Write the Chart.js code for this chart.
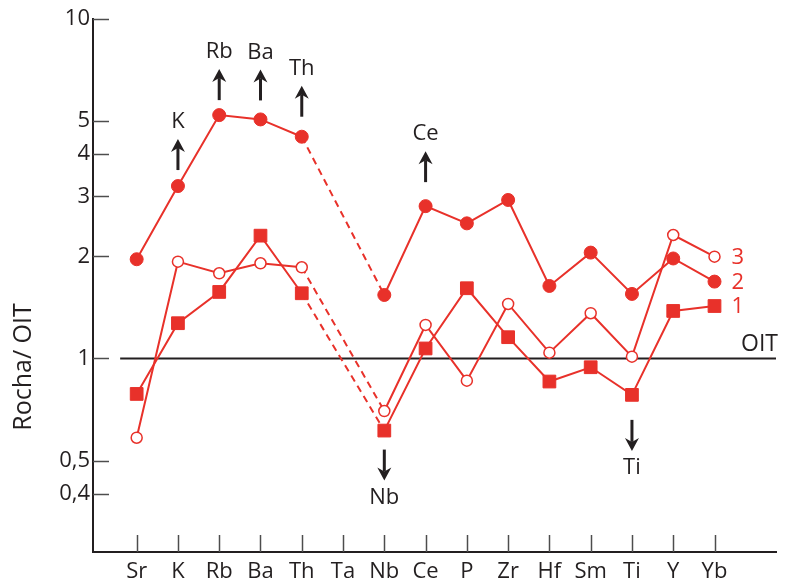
<!DOCTYPE html>
<html>
<head>
<meta charset="utf-8">
<script src="https://cdn.jsdelivr.net/npm/chart.js@4.4.0/dist/chart.umd.min.js"></script>
<style>
  html, body { margin: 0; padding: 0; background: #ffffff; }
  canvas { display: block; }
</style>
</head>
<body>
<canvas id="spider" width="786" height="579"></canvas>
<script>
// Elements along the horizontal axis (Ta has no analysis)
const elements = ['Sr', 'K', 'Rb', 'Ba', 'Th', 'Ta', 'Nb', 'Ce', 'P', 'Zr', 'Hf', 'Sm', 'Ti', 'Y', 'Yb'];

// Rock / OIT normalised values for each sample
const sample1 = [0.786, 1.27, 1.57, 2.30, 1.556, null, 0.613, 1.07, 1.61, 1.155, 0.855, 0.942, 0.781, 1.38, 1.427];
const sample2 = [1.96, 3.22, 5.21, 5.06, 4.50, null, 1.538, 2.81, 2.50, 2.93, 1.635, 2.05, 1.549, 1.97, 1.684];
const sample3 = [0.584, 1.928, 1.782, 1.907, 1.856, null, 0.70, 1.255, 0.86, 1.447, 1.04, 1.359, 1.012, 2.31, 1.994];

const sampleNames = ['1', '2', '3'];
const yTickValues = [0.4, 0.5, 1, 2, 3, 4, 5, 10];
const yTitle = 'Rocha/ OIT';
const oitLabel = 'OIT';
const oitLevel = 1;

// Elements flagged with an enrichment (up) or depletion (down) arrow
const enrichedElements = ['K', 'Rb', 'Ba', 'Th', 'Ce'];
const depletedElements = ['Nb', 'Ti'];

// ---- styling ----
const RED = '#e8312a';
const INK = '#231f20';
const FONT = '"Open Sans", "Noto Sans", sans-serif';
const FONT_SIZE = 22;
const TITLE_SIZE = 25;
const arrowGap = { K: 16, Rb: 15, Ba: 19, Th: 20, Ce: 24, Nb: 19, Ti: 25 };
const ARROW_LEN = 31;
const LABEL_GAP = 17;

const toPoints = vals => vals.map((v, i) => ({ x: i, y: v }));
const dashAcrossGap = ctx => (ctx.p0.skip || ctx.p1.skip) ? [7, 5] : undefined;

function drawArrow(ctx, x, yFrom, yTo) {
  const dir = yTo < yFrom ? -1 : 1;
  ctx.save();
  ctx.strokeStyle = INK;
  ctx.fillStyle = INK;
  ctx.lineWidth = 3;
  ctx.beginPath();
  ctx.moveTo(x, yFrom);
  ctx.lineTo(x, yTo - dir * 9);
  ctx.stroke();
  ctx.beginPath();
  ctx.moveTo(x, yTo);
  ctx.lineTo(x - 7, yTo - dir * 13);
  ctx.lineTo(x, yTo - dir * 9);
  ctx.lineTo(x + 7, yTo - dir * 13);
  ctx.closePath();
  ctx.fill();
  ctx.restore();
}

const decorations = {
  id: 'decorations',
  beforeDatasetsDraw(chart) {
    const { ctx, chartArea: area, scales: { x, y } } = chart;
    ctx.save();
    // inward tick marks
    ctx.strokeStyle = '#4d4d4d';
    ctx.lineWidth = 1.5;
    x.ticks.forEach(t => {
      const px = Math.round(x.getPixelForValue(t.value)) + 0.5;
      ctx.beginPath();
      ctx.moveTo(px, area.bottom);
      ctx.lineTo(px, area.bottom - 17);
      ctx.stroke();
    });
    y.ticks.forEach(t => {
      const py = Math.round(y.getPixelForValue(t.value)) + 0.5;
      ctx.beginPath();
      ctx.moveTo(area.left, py);
      ctx.lineTo(area.left + 16, py);
      ctx.stroke();
    });
    // OIT reference level
    const oy = y.getPixelForValue(oitLevel);
    ctx.strokeStyle = INK;
    ctx.lineWidth = 2;
    ctx.beginPath();
    ctx.moveTo(x.getPixelForValue(-0.4), oy);
    ctx.lineTo(area.right, oy);
    ctx.stroke();
    ctx.fillStyle = INK;
    ctx.font = (FONT_SIZE + 1) + 'px ' + FONT;
    ctx.textAlign = 'right';
    ctx.textBaseline = 'alphabetic';
    ctx.fillText(oitLabel, area.right + 2, oy - 7);
    // vertical axis title
    ctx.save();
    ctx.translate(area.left - 69, area.top + 348);
    ctx.rotate(-Math.PI / 2);
    ctx.font = TITLE_SIZE + 'px ' + FONT;
    ctx.textAlign = 'center';
    ctx.textBaseline = 'middle';
    ctx.fillText(yTitle, 0, 0);
    ctx.restore();
    ctx.restore();
  },
  afterDatasetsDraw(chart) {
    const { ctx, scales: { x, y } } = chart;
    ctx.save();
    ctx.font = FONT_SIZE + 'px ' + FONT;
    ctx.textAlign = 'center';
    ctx.textBaseline = 'middle';
    ctx.fillStyle = INK;
    enrichedElements.forEach(el => {
      const i = elements.indexOf(el);
      const px = x.getPixelForValue(i);
      const py = y.getPixelForValue(sample2[i]);
      const tail = py - arrowGap[el];
      const tip = tail - ARROW_LEN;
      drawArrow(ctx, px, tail, tip);
      ctx.fillText(el, px, tip - LABEL_GAP);
    });
    depletedElements.forEach(el => {
      const i = elements.indexOf(el);
      const px = x.getPixelForValue(i);
      const py = y.getPixelForValue(sample1[i]);
      const tail = py + arrowGap[el];
      const tip = tail + ARROW_LEN;
      drawArrow(ctx, px, tail, tip);
      ctx.fillText(el, px, tip + LABEL_GAP);
    });
    // sample numbers beside the last point of each pattern
    ctx.fillStyle = RED;
    ctx.textAlign = 'left';
    [sample1, sample2, sample3].forEach((s, k) => {
      const i = s.length - 1;
      ctx.fillText(sampleNames[k], x.getPixelForValue(i) + 17, y.getPixelForValue(s[i]) + 1);
    });
    ctx.restore();
  }
};

const common = {
  borderColor: RED,
  borderWidth: 2,
  tension: 0,
  spanGaps: true,
  segment: { borderDash: dashAcrossGap }
};

new Chart(document.getElementById('spider'), {
  type: 'line',
  data: {
    datasets: [
      Object.assign({}, common, {
        label: sampleNames[0], data: toPoints(sample1), order: 2,
        pointStyle: 'rect', pointRadius: 9, pointBackgroundColor: RED,
        pointBorderColor: RED, pointBorderWidth: 1
      }),
      Object.assign({}, common, {
        label: sampleNames[1], data: toPoints(sample2), order: 1,
        pointStyle: 'circle', pointRadius: 6.5, pointBackgroundColor: RED,
        pointBorderColor: RED, pointBorderWidth: 1
      }),
      Object.assign({}, common, {
        label: sampleNames[2], data: toPoints(sample3), order: 0,
        pointStyle: 'circle', pointRadius: 5.5, pointBackgroundColor: '#ffffff',
        pointBorderColor: RED, pointBorderWidth: 1.5
      })
    ]
  },
  options: {
    responsive: false,
    animation: false,
    devicePixelRatio: 1,
    layout: { padding: { top: 19, right: 5, bottom: 0, left: 0 } },
    plugins: { legend: { display: false }, tooltip: { enabled: false } },
    scales: {
      x: {
        type: 'linear',
        min: -1.058,
        max: 15.49,
        afterBuildTicks: s => { s.ticks = elements.map((_, i) => ({ value: i })); },
        afterFit: s => { s.height = 27; },
        grid: { display: false, drawTicks: false },
        border: { display: true, color: INK, width: 2 },
        ticks: {
          autoSkip: false, maxRotation: 0, padding: 7,
          color: INK, font: { family: FONT, size: FONT_SIZE },
          callback: v => elements[v]
        }
      },
      y: {
        type: 'logarithmic',
        min: 0.269,
        max: 10,
        afterBuildTicks: s => { s.ticks = yTickValues.map(v => ({ value: v })); },
        afterFit: s => { s.width = 93; },
        grid: { display: false, drawTicks: false },
        border: { display: true, color: INK, width: 2 },
        ticks: {
          padding: 3, color: INK, font: { family: FONT, size: FONT_SIZE },
          callback: v => String(v).replace('.', ',')
        }
      }
    }
  },
  plugins: [decorations]
});
</script>
</body>
</html>
